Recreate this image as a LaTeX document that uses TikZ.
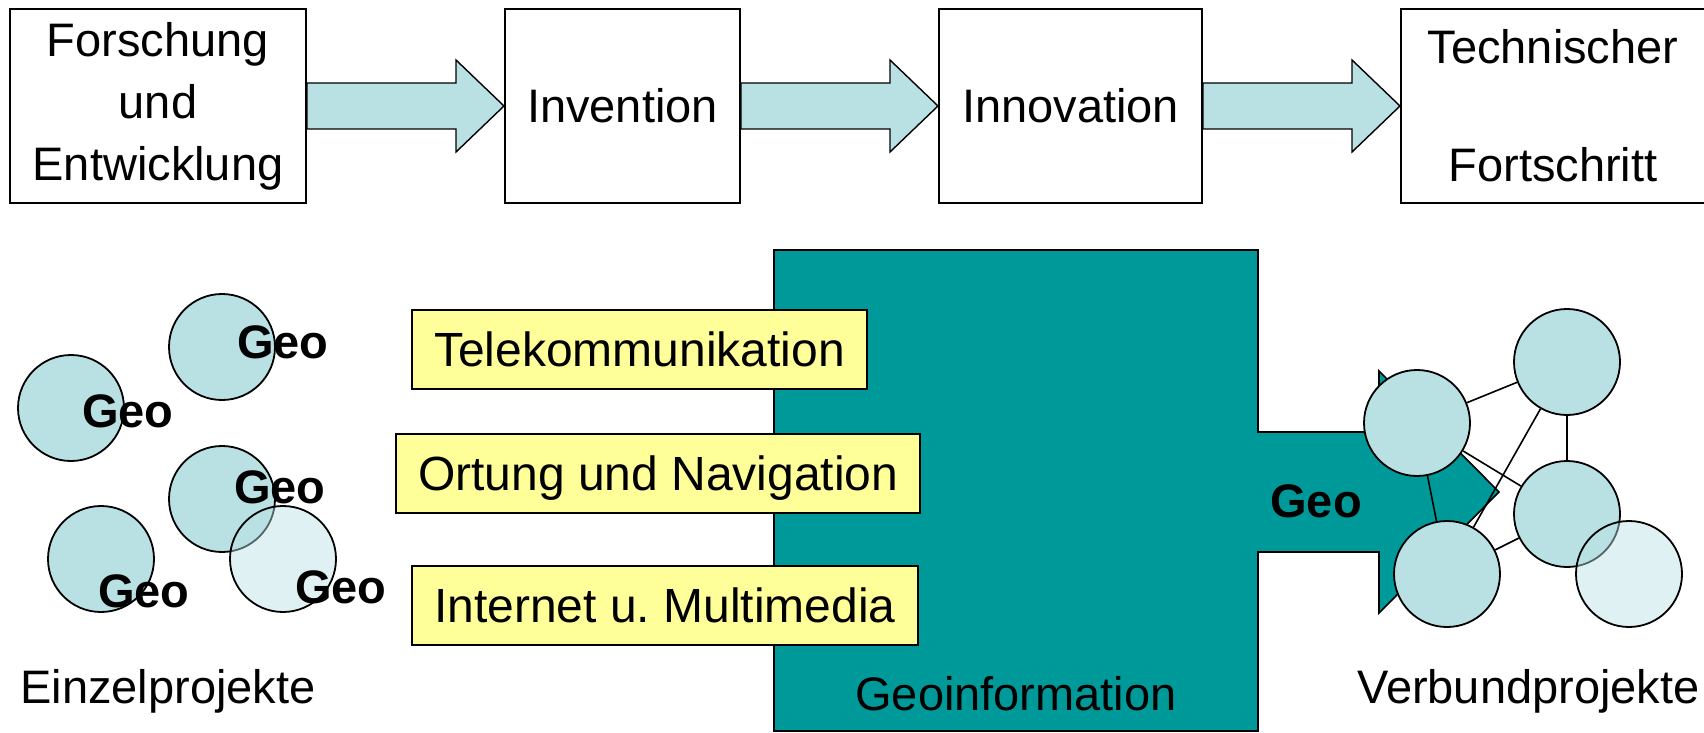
\documentclass[tikz,border=0pt]{standalone}
\usepackage{fontspec}
\setmainfont{Liberation Sans}
\usetikzlibrary{positioning, calc}
\definecolor{paleblue}{RGB}{185,224,227}
\definecolor{geoteal}{RGB}{0,153,153}
\definecolor{paleyellow}{RGB}{255,255,153}
\tikzset{
  x=0.5pt, y=-0.5pt,
  node distance=98.5pt,
  every node/.style={font=\fontsize{23.5}{31}\selectfont, inner sep=0pt},
  stage/.style={draw, line width=1pt, minimum height=97pt, align=center},
  flow/.style={draw, fill=paleblue, line width=0.7pt},
  topic/.style={draw, line width=1pt, fill=paleyellow, anchor=west, inner xsep=11pt,
    font=\fontsize{24}{29}\selectfont, minimum height=39.5pt, text height=17pt, text depth=0pt},
  proj/.style={circle, draw, line width=0.9pt, fill=paleblue, minimum size=53pt},
  shared/.style={proj, fill opacity=0.45},
  geo/.style={font=\fontsize{23.5}{28}\selectfont\bfseries, anchor=base},
  link/.style={line width=0.8pt},
}

\begin{document}
\begin{tikzpicture}
  \useasboundingbox (0,0) rectangle (1704,733);

  % Forschung -> Fortschritt
  \node[stage, minimum width=148pt, anchor=north west] (b1) at (9,8) {Forschung\\und\\Entwicklung};
  \node[stage, minimum width=117.5pt, right=of b1] (b2) {Invention};
  \node[stage, minimum width=131.5pt, right=of b2] (b3) {Innovation};
  \node[stage, minimum width=152pt, right=of b3] (b4) {Technischer\\[28pt]Fortschritt};
  \foreach \a/\b in {b1/b2, b2/b3, b3/b4}
    \draw[flow] ($(\a.east)+(0,-23)$) -- ($(\b.west)+(-48,-23)$) -- ($(\b.west)+(-48,-46)$)
      -- (\b.west) -- ($(\b.west)+(-48,46)$) -- ($(\b.west)+(-48,23)$) -- ($(\a.east)+(0,23)$) -- cycle;

  % Geoinformation
  \draw[line width=0.8pt, fill=geoteal] (774,250) -- (1258,250) -- (1258,432) -- (1379,432)
    -- (1379,371) -- (1499,492) -- (1379,613) -- (1379,552) -- (1258,552) -- (1258,731)
    -- (774,731) -- cycle;
  \node[anchor=base] (geoinfo) at (1016,710) {Geoinformation};
  \node[geo] (gflow) at (1316,517) {Geo};

  \node[topic] (tele) at (411,349.5) {Telekommunikation};
  \node[topic] (ortung) at (395,473) {Ortung und Navigation};
  \node[topic] (inet) at (411,605.5) {Internet u.\ Multimedia};

  % Einzelprojekte
  \node[proj] (e1) at (222,347) {};
  \node[proj] (e2) at (71,408) {};
  \node[proj] (e3) at (222,499) {};
  \node[proj] (e4) at (101,559) {};
  \node[shared] (e5) at (283,559) {};
  \node[geo] (g1) at (283,358) {Geo};
  \node[geo] (g2) at (128,427) {Geo};
  \node[geo] (g3) at (280,503) {Geo};
  \node[geo] (g4) at (144,607) {Geo};
  \node[geo] (g5) at (341,603) {Geo};
  \node[anchor=base west] (einzel) at (20,703) {Einzelprojekte};

  % Verbundprojekte
  \node[proj] (v1) at (1417,423) {};
  \node[proj] (v2) at (1567,362) {};
  \node[proj] (v3) at (1567,514) {};
  \node[proj] (v4) at (1447,574) {};
  \node[shared] (v5) at (1629,574) {};
  \draw[link] (v1) -- (v2) (v1) -- (v3) (v1) -- (v4)
              (v2) -- (v3) (v2) -- (v4) (v4) -- (v3);
  \node[anchor=base east] (verbund) at (1700,703) {Verbundprojekte};
\end{tikzpicture}
\end{document}
